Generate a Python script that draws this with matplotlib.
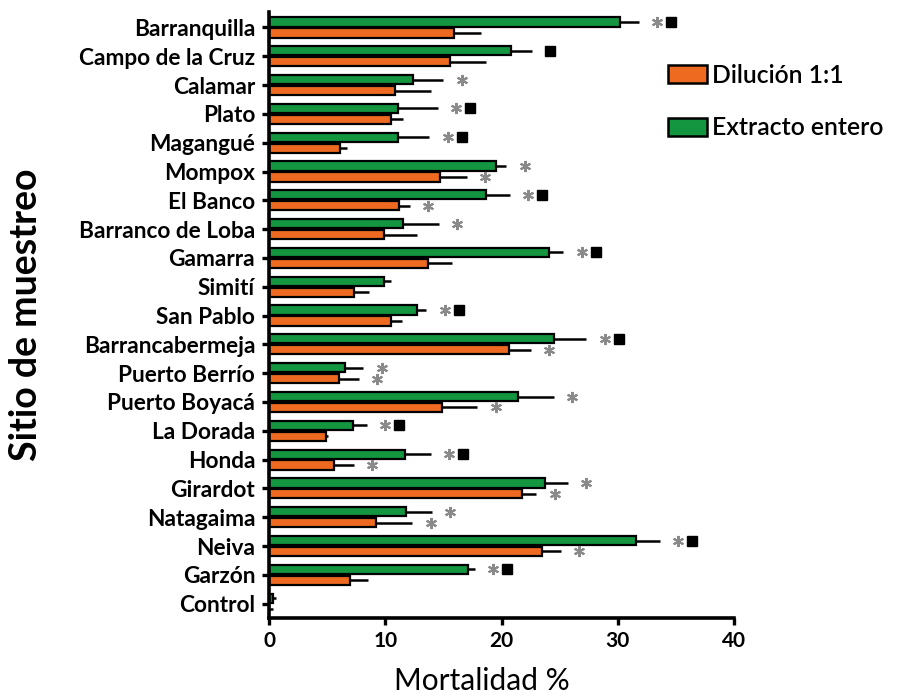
import numpy as np
import matplotlib
matplotlib.use("Agg")
import matplotlib.pyplot as plt
from matplotlib.patches import Patch

plt.rcParams['font.family'] = ['Lato', 'DejaVu Sans']

# sitios de muestreo (de arriba hacia abajo)
sitios = ["Barranquilla", "Campo de la Cruz", "Calamar", "Plato", "Magangué",
          "Mompox", "El Banco", "Barranco de Loba", "Gamarra", "Simití",
          "San Pablo", "Barrancabermeja", "Puerto Berrío", "Puerto Boyacá",
          "La Dorada", "Honda", "Girardot", "Natagaima", "Neiva", "Garzón",
          "Control"]

# mortalidad media (%) y error
entero = [30.2, 20.8, 12.4, 11.1, 11.1, 19.5, 18.7, 11.5, 24.1, 9.9,
          12.7, 24.5, 6.5, 21.4, 7.2, 11.7, 23.7, 11.8, 31.6, 17.1, 0.3]
entero_err = [1.6, 1.8, 2.6, 3.4, 2.7, 0.9, 2.0, 3.1, 1.2, 0.6,
              0.8, 2.8, 1.6, 3.1, 1.2, 2.2, 2.0, 2.2, 2.0, 0.6, 0.3]
dilucion = [15.9, 15.6, 10.8, 10.5, 6.1, 14.7, 11.2, 9.9, 13.7, 7.3,
            10.5, 20.6, 6.0, 14.9, 4.9, 5.6, 21.8, 9.2, 23.5, 7.0, 0.0]
dilucion_err = [2.3, 3.1, 3.1, 1.0, 0.6, 2.3, 0.9, 2.8, 2.0, 1.3,
                0.9, 1.9, 1.7, 3.0, 0.2, 1.7, 1.2, 3.1, 1.6, 1.5, 0.3]

# marcas de significancia: "*" asterisco gris, "s" cuadro negro
marca_entero = ["*s", "s", "*", "*s", "*s", "*", "*s", "*", "*s", "",
                "*s", "*s", "*", "*", "*s", "*s", "*", "*", "*s", "*s", ""]
marca_dilucion = ["", "", "", "", "", "*", "*", "", "", "",
                  "", "*", "*", "*", "", "*", "*", "*", "*", "", ""]

naranja = "#ee6a21"
verde = "#14953f"

fig = plt.figure(figsize=(8.98, 6.97), dpi=100)
ax = fig.add_axes([0.2996, 0.1133, 0.5178, 0.870])

y = np.arange(len(sitios))
h = 0.32
d = 0.19
ebar = dict(ecolor="black", elinewidth=1.8, capsize=0)

ax.barh(y - d, entero, height=h, color=verde, edgecolor="black",
        linewidth=1.6, xerr=[np.zeros(len(y)), entero_err], error_kw=ebar)
ax.barh(y + d, dilucion, height=h, color=naranja, edgecolor="black",
        linewidth=1.6, xerr=[np.zeros(len(y)), dilucion_err], error_kw=ebar)


def marcar(fila, valor, err, marca):
    x = valor + err + 1.6
    for c in marca:
        if c == "*":
            ax.plot(x, fila, marker=(6, 2, 0), color="#8a8a8a",
                    markersize=8, markeredgewidth=1.5, clip_on=False)
        else:
            ax.plot(x, fila, marker="s", color="black", markersize=6.5,
                    clip_on=False)
        x += 1.2


for i in range(len(sitios)):
    if marca_entero[i]:
        marcar(y[i] - d, entero[i], entero_err[i], marca_entero[i])
    if marca_dilucion[i]:
        marcar(y[i] + d, dilucion[i], dilucion_err[i], marca_dilucion[i])

ax.set_xlim(0, 40)
ax.set_ylim(20.5, -0.55)
ax.set_xticks([0, 10, 20, 30, 40])
ax.set_yticks(y)
ax.set_yticklabels(sitios, fontweight="bold", fontsize=16.3)
ax.tick_params(axis="x", labelsize=15, width=2.4, length=5, pad=4)
ax.tick_params(axis="y", width=2.4, length=5, pad=5)
for lab in ax.get_xticklabels():
    lab.set_fontweight("bold")

for s in ["top", "right"]:
    ax.spines[s].set_visible(False)
for s in ["left", "bottom"]:
    ax.spines[s].set_linewidth(2.6)

ax.set_xlabel("Mortalidad %", fontsize=21.5)
ax.xaxis.set_label_coords(0.458, -0.08)
ax.set_ylabel("Sitio de muestreo", fontsize=27, fontweight="bold")
ax.yaxis.set_label_coords(-0.486, 0.5)

leyenda = [Patch(facecolor=naranja, edgecolor="black", linewidth=1.8, label="Dilución 1:1"),
           Patch(facecolor=verde, edgecolor="black", linewidth=1.8, label="Extracto entero")]
fig.legend(handles=leyenda, loc="upper left", bbox_to_anchor=(0.733, 0.923),
           frameon=False, handlelength=1.58, handleheight=0.75,
           handletextpad=0.2, labelspacing=1.2, borderaxespad=0,
           prop={"weight": "semibold", "size": 17.8})

fig.savefig("out.png", dpi=100)
